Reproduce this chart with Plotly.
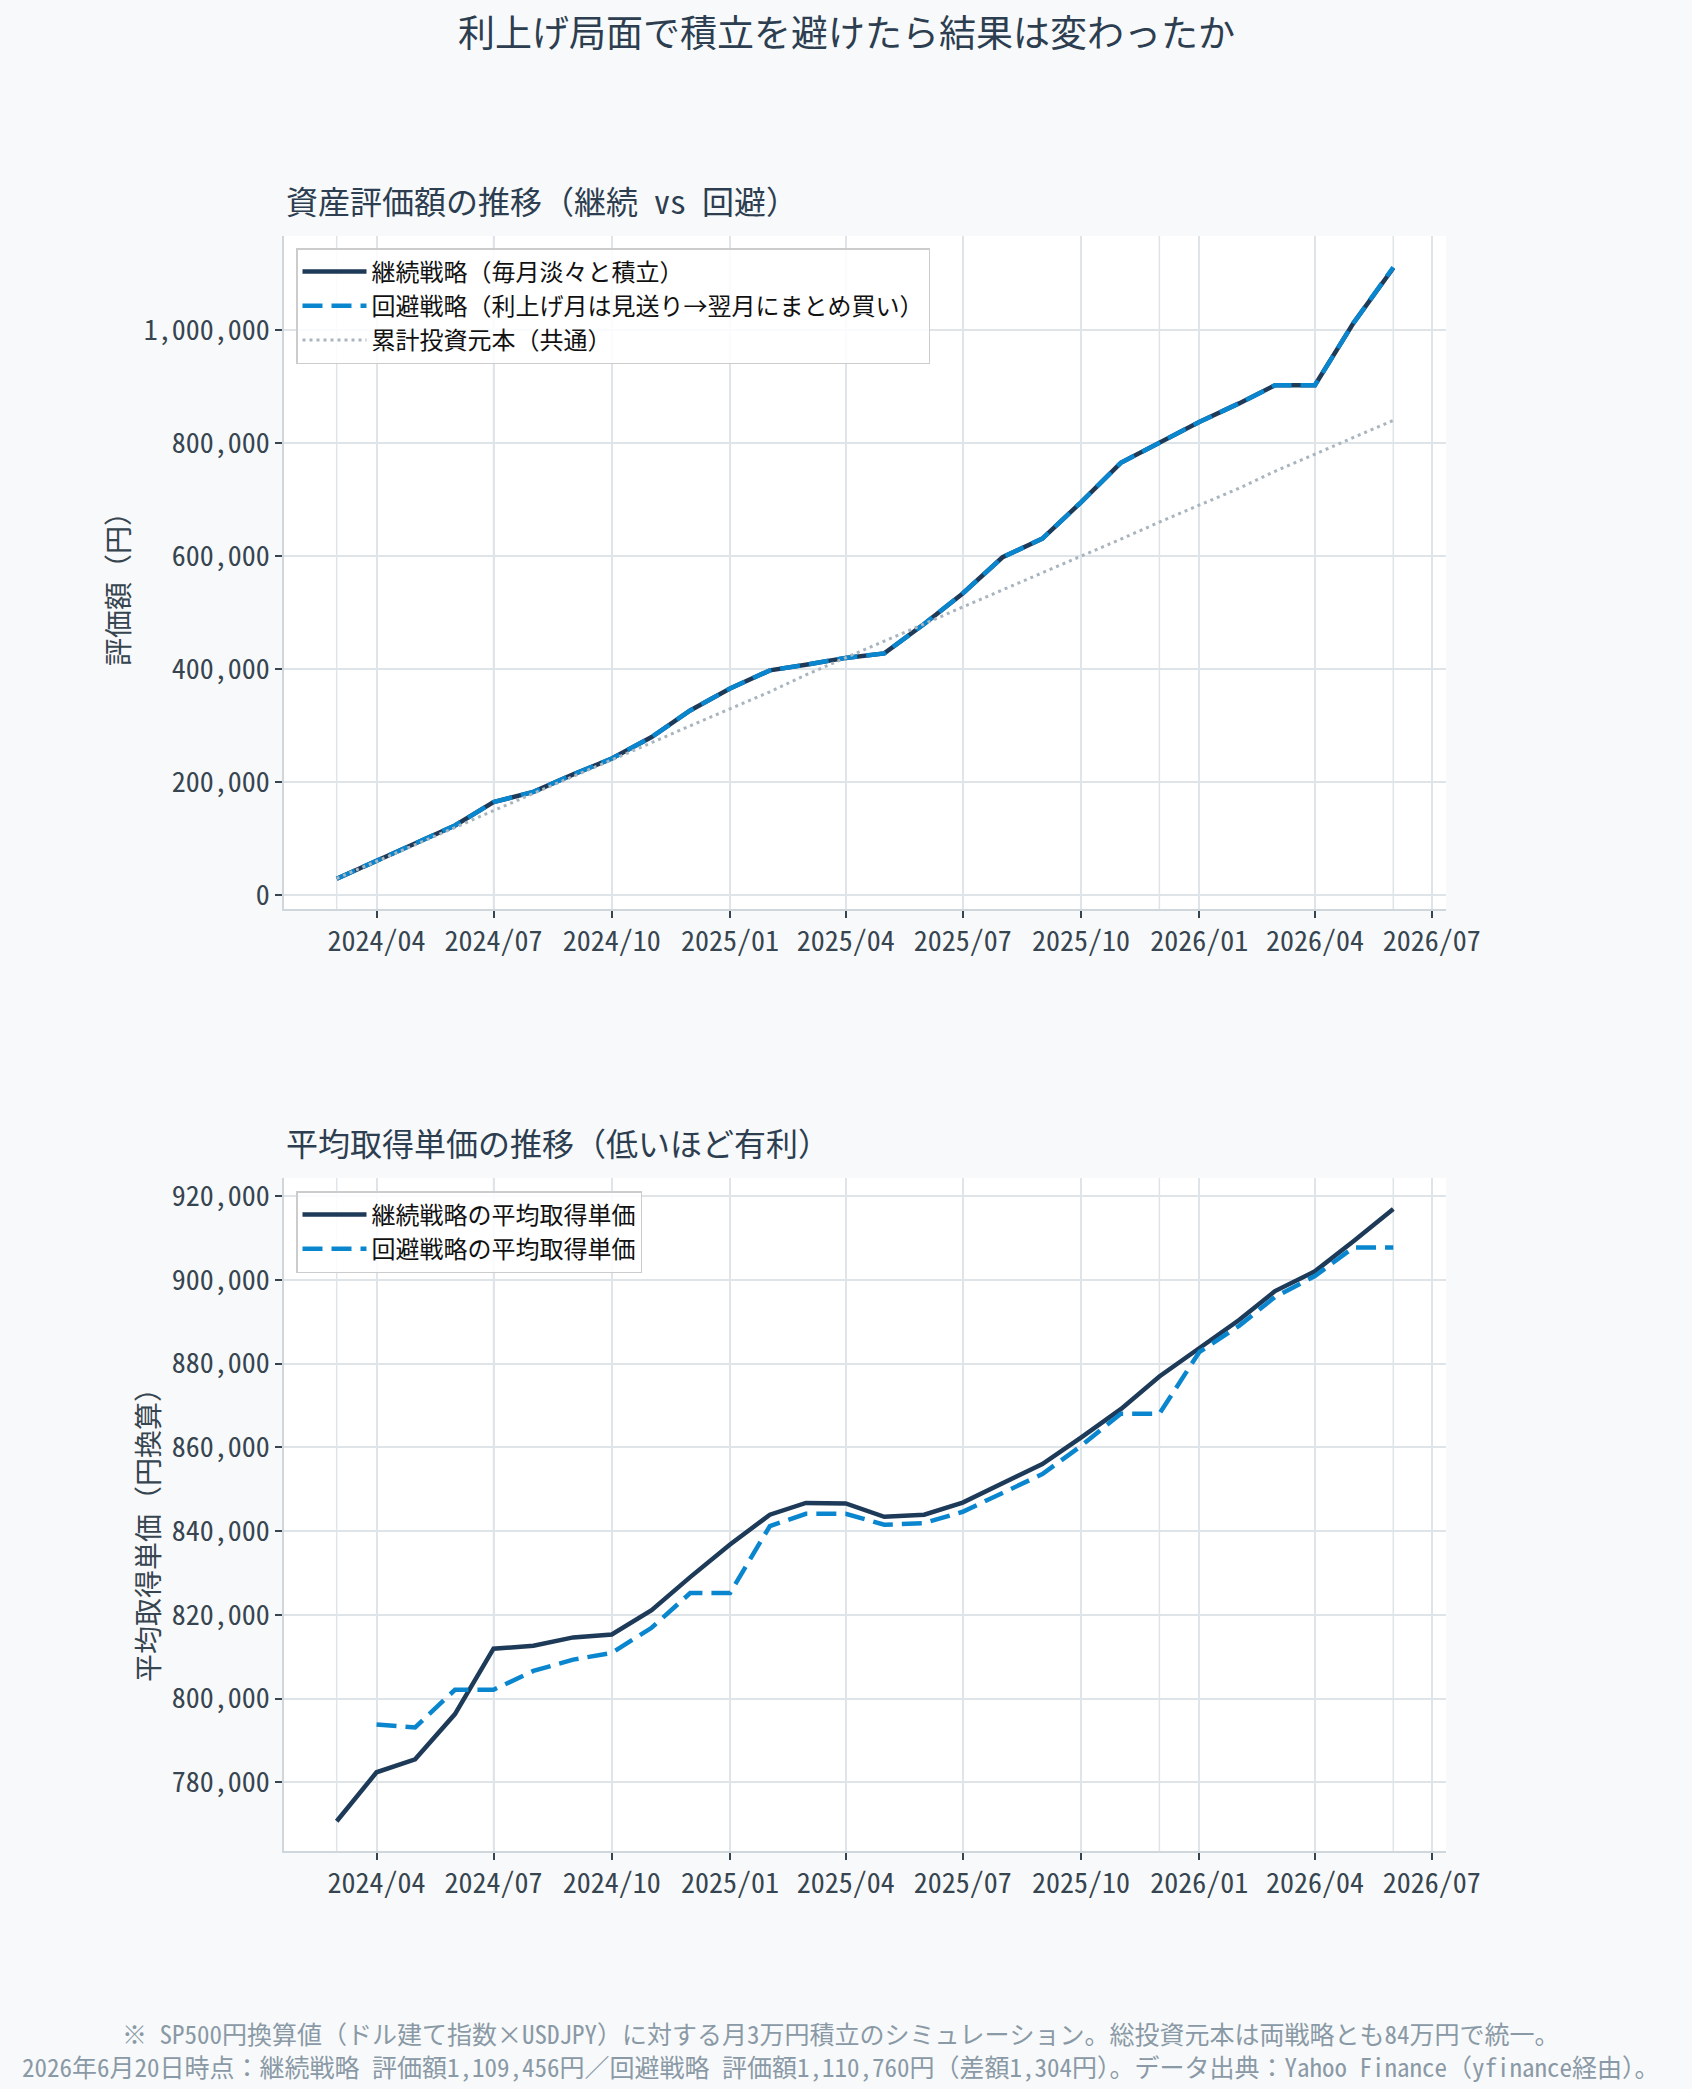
import plotly.graph_objects as go

# ---------------- data ----------------
months = ["2024-03-01", "2024-04-01", "2024-05-01", "2024-06-01", "2024-07-01", "2024-08-01",
          "2024-09-01", "2024-10-01", "2024-11-01", "2024-12-01", "2025-01-01", "2025-02-01",
          "2025-03-01", "2025-04-01", "2025-05-01", "2025-06-01", "2025-07-01", "2025-08-01",
          "2025-09-01", "2025-10-01", "2025-11-01", "2025-12-01", "2026-01-01", "2026-02-01",
          "2026-03-01", "2026-04-01", "2026-05-01", "2026-06-01"]

value_continue = [29500, 61000, 90500, 123600, 165000, 183000, 214000, 242000, 280000, 327000,
                  366000, 398000, 408000, 420000, 428000, 480000, 534000, 598000, 631000, 695000,
                  765000, 801000, 837000, 870000, 902000, 902000, 1012000, 1109456]
value_avoid = [29500, 61000, 90500, 123600, 165000, 183000, 214000, 242000, 280000, 327000,
               366000, 398000, 408000, 420000, 428000, 480000, 534000, 598000, 631000, 695000,
               765000, 801000, 837000, 870000, 902000, 902000, 1012000, 1110760]
principal = [30000, 60000, 90000, 120000, 150000, 180000, 210000, 240000, 270000, 300000,
             330000, 360000, 390000, 420000, 450000, 480000, 510000, 540000, 570000, 600000,
             630000, 660000, 690000, 720000, 750000, 780000, 810000, 840000]

avg_continue = [770700, 782400, 785500, 796300, 811900, 812600, 814600, 815300, 821100, 829000,
                836800, 843900, 846700, 846600, 843400, 843900, 846800, 851300, 856000, 862300,
                869100, 876900, 883700, 890400, 897300, 902000, 909200, 916900]
avg_avoid = [None, 793800, 793100, 802100, 802100, 806600, 809300, 810900, 816900, 825200,
             825200, 841200, 844100, 844100, 841500, 841900, 844600, 849100, 853600, 860300,
             868000, 868000, 882700, 889000, 895900, 900900, 907700, 907700]

hike_months = ["2024-03-01", "2024-07-01", "2025-01-01", "2025-12-01", "2026-06-01"]

suptitle = "利上げ局面で積立を避けたら結果は変わったか"
title_top = "資産評価額の推移（継続 vs 回避）"
title_bottom = "平均取得単価の推移（低いほど有利）"
ylabel_top = "評価額（円）"
ylabel_bottom = "平均取得単価（円換算）"
names_top = ["継続戦略（毎月淡々と積立）", "回避戦略（利上げ月は見送り→翌月にまとめ買い）", "累計投資元本（共通）"]
names_bottom = ["継続戦略の平均取得単価", "回避戦略の平均取得単価"]
note1 = "※ SP500円換算値（ドル建て指数×USDJPY）に対する月3万円積立のシミュレーション。総投資元本は両戦略とも84万円で統一。"
note2 = "2026年6月20日時点：継続戦略 評価額1,109,456円／回避戦略 評価額1,110,760円（差額1,304円）。データ出典：Yahoo Finance（yfinance経由）。"

# ---------------- style ----------------
W, H = 1692, 2089
FONT = "Noto Sans Mono CJK JP, Noto Sans CJK JP, DejaVu Sans Mono, sans-serif"
C_CONT = "#1e3a59"
C_AVOID = "#0a86cf"
C_PRIN = "#a9b5be"
C_TEXT = "#2c3e50"
C_TICK = "#36454f"
C_GRID = "#dfe4e8"
C_SPINE = "#cfd6dc"

x0, x1 = 284 / W, 1446 / W
top_dom = [1 - 909 / H, 1 - 236 / H]
bot_dom = [1 - 1851 / H, 1 - 1178 / H]

fig = go.Figure()

fig.add_trace(go.Scatter(x=months, y=value_continue, mode="lines", name=names_top[0],
                         line=dict(color=C_CONT, width=4.5), xaxis="x", yaxis="y", legend="legend"))
fig.add_trace(go.Scatter(x=months, y=value_avoid, mode="lines", name=names_top[1],
                         line=dict(color=C_AVOID, width=4.5, dash="20px,9px"), xaxis="x", yaxis="y",
                         legend="legend"))
fig.add_trace(go.Scatter(x=months, y=principal, mode="lines", name=names_top[2],
                         line=dict(color=C_PRIN, width=3, dash="3px,4px"), xaxis="x", yaxis="y",
                         legend="legend"))

fig.add_trace(go.Scatter(x=months, y=avg_continue, mode="lines", name=names_bottom[0],
                         line=dict(color=C_CONT, width=4.5), xaxis="x2", yaxis="y2", legend="legend2"))
fig.add_trace(go.Scatter(x=months, y=avg_avoid, mode="lines", name=names_bottom[1],
                         line=dict(color=C_AVOID, width=4.5, dash="20px,9px"), xaxis="x2", yaxis="y2",
                         legend="legend2", connectgaps=False))

xr = ["2024-01-20", "2026-07-12"]
xcommon = dict(type="date", range=xr, dtick="M3", tick0="2024-01-01", tickformat="%Y/%m",
               showgrid=True, gridcolor=C_GRID, gridwidth=1.5, ticks="outside", ticklen=7,
               tickwidth=1.5, tickcolor=C_TICK, showline=True, linecolor=C_SPINE, linewidth=1.5,
               tickfont=dict(family=FONT, size=28, color=C_TICK), zeroline=False, mirror=False)
ycommon = dict(showgrid=True, gridcolor=C_GRID, gridwidth=1.5, ticks="outside", ticklen=7,
               tickwidth=1.5, tickcolor=C_TICK, showline=True, linecolor=C_SPINE, linewidth=1.5,
               tickfont=dict(family=FONT, size=28, color=C_TICK), zeroline=False, tickformat=",d")

legend_common = dict(xanchor="left", yanchor="top", bgcolor="rgba(255,255,255,0.85)",
                     bordercolor="#cccccc", borderwidth=1.5, itemwidth=64,
                     font=dict(family=FONT, size=24, color="#111111"), tracegroupgap=0)

fig.update_layout(
    width=W, height=H,
    margin=dict(l=0, r=0, t=0, b=0, autoexpand=False),
    paper_bgcolor="#f8f9fa", plot_bgcolor="#ffffff",
    font=dict(family=FONT, color=C_TEXT),
    xaxis=dict(domain=[x0, x1], anchor="y", **xcommon),
    yaxis=dict(domain=top_dom, anchor="x", range=[-24000, 1166000], dtick=200000, **ycommon),
    xaxis2=dict(domain=[x0, x1], anchor="y2", **xcommon),
    yaxis2=dict(domain=bot_dom, anchor="x2", range=[763600, 924300], dtick=20000, **ycommon),
    legend=dict(x=296 / W, y=1 - 248 / H, **legend_common),
    legend2=dict(x=296 / W, y=1 - 1191 / H, **legend_common),
    showlegend=True,
)

# hike-month vertical guide lines
shapes = []
for m in hike_months:
    for xa, ya in (("x", "y"), ("x2", "y2")):
        shapes.append(dict(type="line", xref=xa, yref=f"{ya} domain", x0=m, x1=m, y0=0, y1=1,
                           line=dict(color=C_GRID, width=1.5), layer="below"))
fig.update_layout(shapes=shapes)

ann = [
    dict(text=suptitle, x=0.5, y=1 - 31 / H, xref="paper", yref="paper", showarrow=False,
         xanchor="center", yanchor="middle", font=dict(family=FONT, size=37, color=C_TEXT)),
    dict(text=title_top, x=x0, y=1 - 200 / H, xref="paper", yref="paper", showarrow=False,
         xanchor="left", yanchor="middle", font=dict(family=FONT, size=32, color=C_TEXT)),
    dict(text=title_bottom, x=x0, y=1 - 1142 / H, xref="paper", yref="paper", showarrow=False,
         xanchor="left", yanchor="middle", font=dict(family=FONT, size=32, color=C_TEXT)),
    dict(text=ylabel_top, x=117 / W, y=1 - 582 / H, xref="paper", yref="paper", showarrow=False,
         textangle=-90, xanchor="center", yanchor="middle",
         font=dict(family=FONT, size=28, color=C_TICK)),
    dict(text=ylabel_bottom, x=147 / W, y=1 - 1528 / H, xref="paper", yref="paper", showarrow=False,
         textangle=-90, xanchor="center", yanchor="middle",
         font=dict(family=FONT, size=28, color=C_TICK)),
    dict(text=note1 + "<br>" + note2, x=0.497, y=1 - 2049 / H, xref="paper", yref="paper",
         showarrow=False, align="center", xanchor="center", yanchor="middle",
         font=dict(family=FONT, size=25, color="#8a99a6")),
]
fig.update_layout(annotations=ann)

fig.write_html("out.html")
